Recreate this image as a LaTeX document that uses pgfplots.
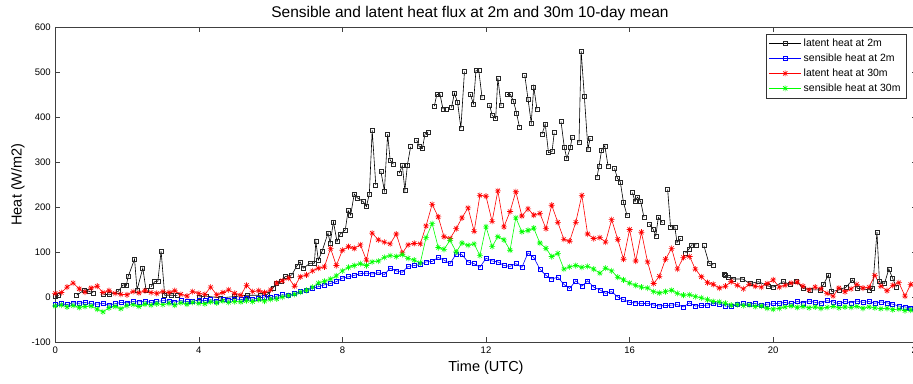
\documentclass[border=0pt]{standalone}
\usepackage{pgfplots}
\pgfplotsset{compat=1.18}
\usepackage{pgfplotstable}
\usepackage{fontspec}
\setmainfont{Liberation Sans}

\pgfdeclareplotmark{mstar}{%
  \pgfpathmoveto{\pgfqpoint{0pt}{\pgfplotmarksize}}\pgfpathlineto{\pgfqpoint{0pt}{-\pgfplotmarksize}}%
  \pgfpathmoveto{\pgfqpoint{\pgfplotmarksize}{0pt}}\pgfpathlineto{\pgfqpoint{-\pgfplotmarksize}{0pt}}%
  \pgfpathmoveto{\pgfqpoint{.7071\pgfplotmarksize}{.7071\pgfplotmarksize}}\pgfpathlineto{\pgfqpoint{-.7071\pgfplotmarksize}{-.7071\pgfplotmarksize}}%
  \pgfpathmoveto{\pgfqpoint{-.7071\pgfplotmarksize}{.7071\pgfplotmarksize}}\pgfpathlineto{\pgfqpoint{.7071\pgfplotmarksize}{-.7071\pgfplotmarksize}}%
  \pgfusepathqstroke}

\pgfplotstableread{
t sen2 lat30 sen30
0.00 -16 8 -20
0.17 -15 10 -18
0.33 -17 22 -22
0.50 -13 31 -19
0.67 -14 18 -23
0.83 -12 11 -21
1.00 -15 20 -20
1.17 -16 24 -27
1.33 -14 10 -33
1.50 -18 14 -24
1.67 -15 8 -21
1.83 -12 6 -26
2.00 -13 5 -19
2.17 -10 12 -17
2.33 -11 9 -21
2.50 -9 14 -16
2.67 -12 10 -18
2.83 -10 8 -15
3.00 -8 12 -17
3.17 -9 10 -14
3.33 -11 14 -18
3.50 -8 6 -13
3.67 -10 2 -16
3.83 -9 12 -12
4.00 -7 8 -14
4.17 -8 6 -15
4.33 -6 22 -11
4.50 -9 5 -13
4.67 -5 10 -9
4.83 -7 16 -12
5.00 -4 8 -10
5.17 -6 4 -11
5.33 -3 26 -8
5.50 -5 12 -10
5.67 -2 14 -6
5.83 0 10 -9
6.00 -1 16 -5
6.17 2 31 -4
6.33 5 36 0
6.50 4 42 3
6.67 8 24 6
6.83 12 45 11
7.00 16 49 15
7.17 19 58 22
7.33 23 64 31
7.50 27 67 35
7.67 30 108 40
7.83 34 70 47
8.00 42 104 58
8.17 45 112 66
8.33 48 108 70
8.50 52 116 74
8.67 53 82 70
8.83 51 142 78
9.00 54 127 80
9.17 50 122 88
9.33 64 118 92
9.50 58 140 90
9.67 55 98 94
9.83 68 116 86
10.00 70 119 82
10.17 72 118 76
10.33 78 158 132
10.50 79 206 163
10.67 88 178 110
10.83 82 134 106
11.00 74 130 126
11.17 96 152 100
11.33 94 176 120
11.50 78 198 115
11.67 74 146 118
11.83 66 226 92
12.00 86 224 156
12.17 80 168 112
12.33 78 236 134
12.50 70 156 127
12.67 68 190 104
12.83 74 234 176
13.00 66 180 145
13.17 98 196 148
13.33 88 182 153
13.50 62 186 120
13.67 48 152 108
13.83 40 204 90
14.00 44 166 97
14.17 28 128 62
14.33 19 124 67
14.50 36 166 70
14.67 24 226 66
14.83 36 140 68
15.00 22 130 62
15.17 16 132 53
15.33 8 122 64
15.50 12 172 58
15.67 0 128 44
15.83 -6 84 38
16.00 -12 150 31
16.17 -13 80 26
16.33 -15 144 22
16.50 -14 78 20
16.67 -18 30 12
16.83 -20 46 9
17.00 -19 84 12
17.17 -18 108 15
17.33 -17 62 8
17.50 -22 88 4
17.67 -13 90 5
17.83 -20 62 1
18.00 -19 45 -2
18.17 -18 32 -6
18.33 -14 28 -10
18.50 -16 20 -11
18.67 -20 24 -14
18.83 -21 34 -18
19.00 -17 26 -17
19.17 -15 18 -19
19.33 -16 28 -18
19.50 -14 24 -21
19.67 -19 22 -20
19.83 -16 30 -25
20.00 -15 38 -27
20.17 -14 22 -25
20.33 -12 26 -22
20.50 -15 31 -20
20.67 -10 33 -23
20.83 -13 24 -21
21.00 -9 16 -24
21.17 -12 22 -22
21.33 -14 18 -25
21.50 -8 8 -23
21.67 -11 2 -21
21.83 -15 20 -24
22.00 -10 12 -22
22.17 -13 18 -23
22.33 -9 28 -21
22.50 -12 20 -25
22.67 -10 22 -22
22.83 -14 48 -24
23.00 -11 24 -26
23.17 -13 14 -25
23.33 -16 26 -28
23.50 -20 32 -27
23.67 -22 2 -30
23.83 -24 28 -29
24.00 -26 22 -31
}\fluxtab

\pgfplotstableread{
t lat2
0.00 2
0.10 3
0.25 nan
0.60 4
0.82 16
0.96 12
1.06 9
1.20 nan
1.34 6
1.52 5
1.75 12
1.89 27
1.98 25
2.03 45
2.21 84
2.28 16
2.44 64
2.53 16
2.60 nan
2.67 23
2.77 34
2.86 35
2.95 102
3.05 4
3.24 4
3.40 3
3.60 nan
4.00 0
4.20 2
4.60 -2
5.00 1
5.35 4
5.70 4
5.90 5
6.07 20
6.17 31
6.30 34
6.40 45
6.59 49
6.73 69
6.82 78
6.91 64
7.10 75
7.22 75
7.26 123
7.33 82
7.43 101
7.60 142
7.66 120
7.75 167
7.85 123
7.94 140
8.08 149
8.16 192
8.23 182
8.33 229
8.42 220
8.58 212
8.67 201
8.75 229
8.83 370
8.93 249
9.00 nan
9.07 280
9.17 236
9.26 362
9.33 304
9.42 295
9.50 nan
9.58 275
9.67 292
9.74 237
9.81 293
9.90 334
9.98 nan
10.07 349
10.14 334
10.23 330
10.30 362
10.39 367
10.48 nan
10.56 424
10.63 450
10.72 450
10.80 418
10.89 418
10.96 nan
11.04 421
11.12 453
11.21 432
11.30 375
11.40 501
11.48 nan
11.56 451
11.65 429
11.72 503
11.80 503
11.89 443
11.98 nan
12.10 427
12.17 404
12.27 397
12.33 487
12.42 425
12.50 nan
12.59 450
12.68 450
12.77 434
12.85 409
12.93 378
13.00 nan
13.08 493
13.17 440
13.26 387
13.33 467
13.42 417
13.49 nan
13.56 362
13.65 384
13.74 321
13.84 323
13.90 365
14.00 nan
14.09 390
14.18 333
14.25 308
14.35 332
14.40 356
14.50 nan
14.59 343
14.65 547
14.74 445
14.84 329
14.90 353
15.00 nan
15.09 266
15.15 291
15.22 327
15.31 336
15.40 291
15.49 nan
15.58 286
15.66 264
15.74 256
15.83 210
15.93 181
16.00 nan
16.08 232
16.15 212
16.22 222
16.31 212
16.40 177
16.48 nan
16.56 162
16.66 150
16.73 136
16.80 177
16.91 165
16.98 nan
17.06 239
17.14 156
17.26 156
17.32 121
17.42 130
17.49 nan
17.56 98
17.65 106
17.73 116
17.87 116
17.97 nan
18.07 114
18.21 75
18.33 71
18.45 nan
18.63 51
18.66 48
18.75 44
18.89 40
19.14 40
19.36 30
19.59 34
19.87 24
20.00 22
20.28 34
20.47 28
20.65 34
20.84 19
21.03 16
21.30 16
21.40 28
21.54 49
21.63 12
21.84 16
22.03 22
22.21 38
22.35 19
22.68 16
22.77 19
22.89 144
22.96 34
23.10 30
23.22 62
23.33 41
23.43 22
}\latAtab

\begin{document}
\begin{tikzpicture}
\useasboundingbox (-55.2pt,-41pt) rectangle (857.8pt,342pt);
\begin{axis}[
  at={(0,0)}, anchor=south west,
  width=861.6pt, height=315pt, scale only axis,
  xmin=0, xmax=24, ymin=-100, ymax=600,
  xtick={0,4,...,24}, ytick={-100,0,...,600},
  tick align=inside, major tick length=5pt,
  axis line style={draw=black!75, line width=0.7pt},
  every tick/.style={black!75, line width=0.6pt},
  ticklabel style={font=\fontsize{9.5}{11}\selectfont},
  /pgf/number format/assume math mode=true,
  xticklabel style={yshift=-1pt},
  yticklabel style={xshift=-1pt},
  xlabel={Time (UTC)}, ylabel={Heat (W/m2)},
  xlabel style={at={(axis description cs:0.5,-0.083)}, anchor=center, font=\fontsize{14.5}{16}\selectfont},
  ylabel style={at={(axis description cs:-0.0432,0.5)}, anchor=center, font=\fontsize{14.5}{16}\selectfont},
  title={Sensible and latent heat flux at 2m and 30m 10-day mean},
  title style={at={(axis description cs:0.4814,1)}, anchor=center, yshift=8pt, font=\fontsize{15.5}{18}\selectfont},
  unbounded coords=jump,
  legend cell align=left,
  legend image code/.code={\draw[mark repeat=2,mark phase=2,#1] plot coordinates {(0pt,0pt) (16pt,0pt) (32pt,0pt)};},
  legend style={at={(rel axis cs:0.9875,0.978)}, anchor=north east, draw=black!80, line width=0.5pt,
    font=\fontsize{10.5}{12}\selectfont, row sep=0pt,
    nodes={inner sep=2.2pt, text height=8pt, text depth=2.5pt}},
]
\addplot[black, line width=0.6pt, mark=square, mark size=2pt, mark options={solid, draw=black!85, fill=none}] table[x=t, y=lat2] {\latAtab};
\addlegendentry{latent heat at 2m}
\addplot[blue, line width=0.6pt, mark=square, mark size=2pt, mark options={solid, draw=blue}] table[x=t, y=sen2] {\fluxtab};
\addlegendentry{sensible heat at 2m}
\addplot[red, line width=0.6pt, mark=mstar, mark size=3pt, mark options={solid, red}] table[x=t, y=lat30] {\fluxtab};
\addlegendentry{latent heat at 30m}
\addplot[green, line width=0.6pt, mark=mstar, mark size=3pt, mark options={solid, green}] table[x=t, y=sen30] {\fluxtab};
\addlegendentry{sensible heat at 30m}
\end{axis}
\end{tikzpicture}
\end{document}
